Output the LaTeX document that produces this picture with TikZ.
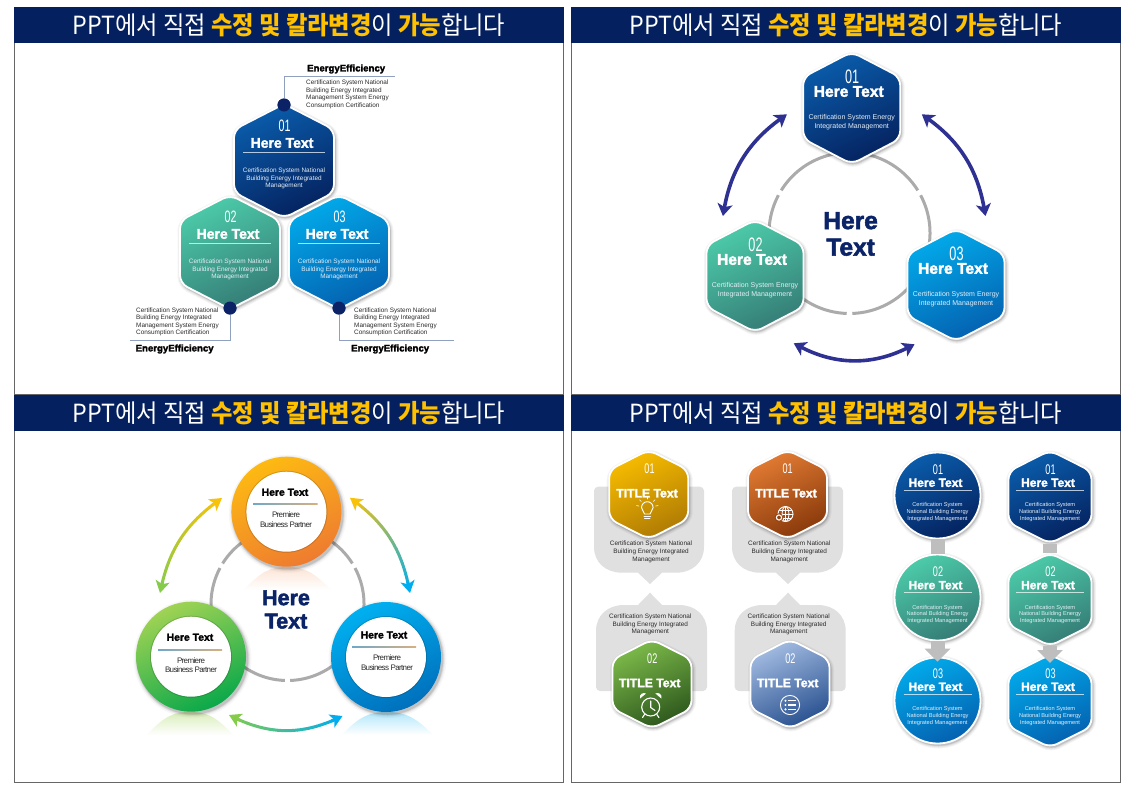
\documentclass[tikz,border=0pt]{standalone}
\usepackage{fontspec}
\usetikzlibrary{arrows.meta,decorations.markings,calc}
\setmainfont{Liberation Sans}
\newfontfamily\krfont[FakeStretch=0.93]{Noto Sans CJK KR}
\newfontfamily\heavy[FakeBold=2.2]{Liberation Sans Bold}
\newfontfamily\numA[FakeStretch=0.65]{Liberation Sans}
\newfontfamily\tight[LetterSpace=-8]{Liberation Sans}
\definecolor{headnavy}{HTML}{04205E}
\definecolor{titleyel}{HTML}{FFC000}
\definecolor{framegr}{HTML}{666666}
\definecolor{navyA}{HTML}{0A5CAB}
\definecolor{navyB}{HTML}{05225F}
\definecolor{tealA}{HTML}{4CCBA9}
\definecolor{tealB}{HTML}{357C76}
\definecolor{blueA}{HTML}{02AAEA}
\definecolor{blueB}{HTML}{0461B0}
\definecolor{arcgr}{HTML}{ABABAB}
\definecolor{arrowpur}{HTML}{2E3192}
\definecolor{dotnavy}{HTML}{0B2266}
\definecolor{leadgr}{HTML}{8FA0C0}
\definecolor{bodyw}{HTML}{E4EEF6}
\definecolor{bubgr}{HTML}{E0E0E0}
\definecolor{bargr}{HTML}{BEBEBE}
\definecolor{txtgr}{HTML}{2B2B2B}
\definecolor{bigblue}{HTML}{0B2468}
\definecolor{orA}{HTML}{FDBA12}
\definecolor{orB}{HTML}{EE7B30}
\definecolor{grA}{HTML}{A0D354}
\definecolor{grB}{HTML}{0AA84A}
\definecolor{skA}{HTML}{00B0F0}
\definecolor{skB}{HTML}{0070BC}
\definecolor{ruleL}{HTML}{6FA8C8}
\definecolor{ruleR}{HTML}{D8B080}
\definecolor{yelA}{HTML}{F7BC00}
\definecolor{yelB}{HTML}{AE7A04}
\definecolor{rusA}{HTML}{E27B33}
\definecolor{rusB}{HTML}{87380A}
\definecolor{lgrA}{HTML}{7DBB4A}
\definecolor{lgrB}{HTML}{2C561C}
\definecolor{lblA}{HTML}{A3BCE2}
\definecolor{lblB}{HTML}{28508F}
\definecolor{arrY}{HTML}{F9C20A}
\definecolor{arrG}{HTML}{84CC4A}
\definecolor{arrB}{HTML}{00AEEF}
\tikzset{
  headbar/.style={fill=headnavy,draw=none},
  framebox/.style={draw=framegr,line width=1pt},
  titletxt/.style={text=white,font=\krfont\fontsize{25}{28}\selectfont,inner sep=0pt},
  anchorbox/.style={draw=none,inner sep=0pt,outer sep=0pt,rectangle},
  numtxt/.style={text=white,inner sep=0pt},
  titlebold/.style={text=white,inner sep=0pt},
  bodytxt/.style={text=bodyw,inner sep=0pt,align=center},
  hrule/.style={white,line width=.5pt,opacity=.7},
  arcline/.style={arcgr,line width=3pt},
  dotnode/.style={circle,fill=dotnavy,draw=none,minimum size=13pt,inner sep=0pt},
  leader/.style={leadgr,line width=1pt},
  leadtxt/.style={text=txtgr,inner sep=0pt,align=left,font=\fontsize{6.4}{7.5}\selectfont},
  leadhead/.style={text=black,inner sep=0pt,font=\heavy\fontsize{9.6}{11}\selectfont},
  purarrow/.style={arrowpur,line width=3.6pt,{Stealth[length=12pt,width=15pt,inset=3pt]}-{Stealth[length=12pt,width=15pt,inset=3pt]}},
  bigtxt/.style={text=bigblue,inner sep=0pt,align=center},
  blacktitle/.style={text=black,inner sep=0pt,font=\heavy\fontsize{10.4}{12}\selectfont},
  smalltight/.style={text=txtgr,inner sep=0pt,align=center,font=\tight\fontsize{8}{9.6}\selectfont},
  bubtxt/.style={text=txtgr,inner sep=0pt,align=center,font=\fontsize{6.4}{7.7}\selectfont},
  iconline/.style={white,line width=.9pt,line cap=round},
  barline/.style={bargr,line width=14pt},
  bararrow/.style={bargr,line width=14pt,-{Triangle[length=13pt,width=25pt]}},
}
\newcommand{\hexpath}[4]{(#1,#2-#4) -- (#1+#3,#2-#4*.55) -- (#1+#3,#2+#4*.55) -- (#1,#2+#4) -- (#1-#3,#2+#4*.55) -- (#1-#3,#2-#4*.55) -- cycle}
\newcommand{\hexbox}[7]{%
  \foreach \w/\o in {7/.04,5/.05,3/.07,1.5/.10}{
    \draw[line width=\w pt,black,opacity=\o,rounded corners=8pt,line join=round]
      \hexpath{#2+1}{#3+1.5}{#4}{#5};}
  \path[draw=white,line width=1.8pt,rounded corners=8pt,top color=#6,bottom color=#7,shading angle=25]
      \hexpath{#2}{#3}{#4}{#5};
  \node[anchorbox,minimum width=2*#4 pt,minimum height=2*#5 pt] (#1) at (#2,#3) {};
}
\newcommand{\discbox}[6]{%
  \foreach \w/\o in {7/.04,5/.05,3/.07,1.5/.10}{
    \fill[black,opacity=\o] (#2+1,#3+1.5) circle[radius=#4+\w/2];}
  \node[circle,draw=white,line width=1.8pt,inner sep=0pt,minimum size=2*#4 pt,top color=#5,bottom color=#6,shading angle=25] (#1) at (#2,#3) {};
}
\newcommand{\textA}[4]{%
  \node[numtxt,font=\numA\fontsize{16.5}{16.5}\selectfont] (#1n) at (#2+.5,#3-35) {#4};
  \node[titlebold,font=\heavy\fontsize{14}{14}\selectfont] (#1t) at (#2-2,#3-18) {Here Text};
  \coordinate (#1l) at (#2-41,#3-8.5); \coordinate (#1r) at (#2+41,#3-8.5);
  \draw[hrule] (#1l) -- (#1r);
  \node[bodytxt,font=\fontsize{6.4}{7.5}\selectfont] (#1b) at (#2,#3+17.5) {Certification System National\\Building Energy Integrated\\Management};
}
\newcommand{\textB}[4]{%
  \node[numtxt,font=\numA\fontsize{19.5}{19.5}\selectfont] (#1n) at (#2+.5,#3-31.5) {#4};
  \node[titlebold,font=\heavy\fontsize{15.6}{16}\selectfont] (#1t) at (#2-3,#3-16.5) {Here Text};
  \node[bodytxt,font=\fontsize{7}{8.6}\selectfont] (#1b) at (#2,#3+14) {Certification System Energy\\Integrated Management};
}
\newcommand{\textC}[4]{%
  \node[numtxt,font=\numA\fontsize{14}{14}\selectfont] (#1n) at (#2+.5,#3) {#4};
  \node[titlebold,font=\heavy\fontsize{12}{12}\selectfont] (#1t) at (#2-2,#3+13.5) {Here Text};
  \coordinate (#1l) at (#2-34,#3+20.8); \coordinate (#1r) at (#2+34,#3+20.8);
  \draw[hrule] (#1l) -- (#1r);
  \node[bodytxt,font=\fontsize{5.66}{6.7}\selectfont] (#1b) at (#2,#3+42.7) {Certification System\\National Building Energy\\Integrated Management};
}
\newcommand{\ringbadge}[5]{%
  \foreach \w/\o in {8/.03,5/.05,3/.07,1.5/.10}{
    \fill[black,opacity=\o] (#2+1.5,#3+2) circle[radius=55+\w/2];}
  \node[circle,draw=none,inner sep=0pt,minimum size=110pt,top color=#4,bottom color=#5,shading angle=25] (#1) at (#2,#3) {};
  \fill[black,opacity=.16] (#2,#3) circle[radius=41];
  \node[circle,fill=white,draw=none,inner sep=0pt,minimum size=80pt] (#1w) at (#2,#3) {};
}
\newcommand{\ringtext}[7]{%
  \node[blacktitle] (#1t) at (#2,#3) {Here Text};
  \coordinate (#1l) at (#4,#6); \coordinate (#1r) at (#5,#6);
  \shade[left color=ruleL,right color=ruleR] (#4,#6-.35) rectangle (#5,#6+.35);
  \node[smalltight] (#1b) at (#7,#6+15.3) {Premiere\\Business Partner};
}
\newcommand{\gradarrow}[6]{%
  \path[postaction={decorate},decoration={markings,
     mark=between positions 0 and 1 step 0.03333 with
     {\coordinate (#1-\pgfkeysvalueof{/pgf/decoration/mark info/sequence number});}}]
     (#2) to[bend left=#4] (#3);
  \foreach \i in {3,...,28}{
    \pgfmathtruncatemacro{\j}{\i+1}
    \pgfmathtruncatemacro{\p}{100-100*(\i-1)/29}
    \draw[#5!\p!#6,line width=3pt,line cap=round] (#1-\i) -- (#1-\j);
  }
  \draw[#5,line width=3pt,-{Stealth[length=12pt,width=14pt,inset=3pt]}] (#1-4) -- (#2);
  \draw[#6,line width=3pt,-{Stealth[length=12pt,width=14pt,inset=3pt]}] (#1-28) -- (#3);
}
\newcommand{\bubble}[7]{%
  \fill[bubgr] (#1+4,#3) -- (#2-4,#3) .. controls (#2-2,#3) and (#2,#3+2*#7) .. (#2,#3+4*#7)
   -- (#2,#4-26*#7) .. controls (#2,#4-10*#7) and (#2-12,#4) .. (#2-28,#4)
   -- (#5+12,#4) -- (#5,#6) -- (#5-12,#4) -- (#1+28,#4)
   .. controls (#1+12,#4) and (#1,#4-10*#7) .. (#1,#4-26*#7)
   -- (#1,#3+4*#7) .. controls (#1,#3+2*#7) and (#1+2,#3) .. (#1+4,#3) -- cycle;
}
\newcommand{\titletext}[6]{% name numx numy titlex titley num
  \node[numtxt,font=\numA\fontsize{14}{14}\selectfont] (#1n) at (#2,#3) {#6};
  \node[titlebold,font=\heavy\fontsize{12.2}{13}\selectfont] (#1t) at (#4,#5) {TITLE Text};
}
\begin{document}
\begin{tikzpicture}[x=1pt,y=-1pt]
\useasboundingbox (0,0) rectangle (1134,793);
\fill[white] (0,0) rectangle (1134,793);
\draw[framebox] (14,7) rectangle (563,394);
\draw[framebox] (571,7) rectangle (1120,394);
\draw[framebox] (14,395) rectangle (563,782.5);
\draw[framebox] (571,395) rectangle (1120,782.5);
\fill[headbar] (13.5,7) rectangle (563.5,43);
\fill[headbar] (570.5,7) rectangle (1120.5,43);
\fill[headbar] (13.5,395) rectangle (563.5,431);
\fill[headbar] (570.5,395) rectangle (1120.5,431);
\node[titletxt] (title1) at (289,25) {PPT에서 직접 \textcolor{titleyel}{\bfseries 수정 및 칼라변경}이 \textcolor{titleyel}{\bfseries 가능}합니다};
\node[titletxt] (title2) at (846,25) {PPT에서 직접 \textcolor{titleyel}{\bfseries 수정 및 칼라변경}이 \textcolor{titleyel}{\bfseries 가능}합니다};
\node[titletxt] (title3) at (289,413) {PPT에서 직접 \textcolor{titleyel}{\bfseries 수정 및 칼라변경}이 \textcolor{titleyel}{\bfseries 가능}합니다};
\node[titletxt] (title4) at (846,413) {PPT에서 직접 \textcolor{titleyel}{\bfseries 수정 및 칼라변경}이 \textcolor{titleyel}{\bfseries 가능}합니다};

% ===== panel 1
\coordinate (lead1) at (395,76.5);
\coordinate (lead2) at (130,340);
\coordinate (lead3) at (454,340);
\node[dotnode] (dot1) at (284,105) {};
\node[dotnode] (dot2) at (230,308) {};
\node[dotnode] (dot3) at (339,308) {};
\draw[leader] (dot1) |- (lead1);
\draw[leader] (dot2) |- (lead2);
\draw[leader] (dot3) |- (lead3);
\hexbox{pa}{284}{161}{50}{57}{navyA}{navyB}
\hexbox{pb}{230}{252}{50}{57}{tealA}{tealB}
\hexbox{pc}{339}{252}{50}{57}{blueA}{blueB}
\node[dotnode] (dot1b) at (284,105) {};
\node[dotnode] (dot2b) at (230,308) {};
\node[dotnode] (dot3b) at (339,308) {};
\textA{pa}{284}{161}{01}
\textA{pb}{230}{252}{02}
\textA{pc}{339}{252}{03}
\node[leadhead,anchor=west] (lh1) at (307,69) {EnergyEfficiency};
\node[leadtxt,anchor=north west] (lt1) at (306,79.8) {Certification System National\\Building Energy Integrated\\Management System Energy\\Consumption Certification};
\node[leadhead,anchor=west] (lh2) at (135.5,349) {EnergyEfficiency};
\node[leadtxt,anchor=north west] (lt2) at (136,307.5) {Certification System National\\Building Energy Integrated\\Management System Energy\\Consumption Certification};
\node[leadhead,anchor=west] (lh3) at (351,349) {EnergyEfficiency};
\node[leadtxt,anchor=north west] (lt3) at (354,307.5) {Certification System National\\Building Energy Integrated\\Management System Energy\\Consumption Certification};

% ===== panel 2
\foreach \a/\b in {-28/88,92/208,212/328}{
  \draw[arcline] (849.5,233) ++(\a:80.5) arc[start angle=\a,end angle=\b,radius=80.5];}
\hexbox{qa}{851.7}{108}{48.5}{56}{navyA}{navyB}
\hexbox{qb}{755}{276}{48.5}{56}{tealA}{tealB}
\hexbox{qc}{956}{285}{48.5}{56}{blueA}{blueB}
\textB{qa}{851.7}{108}{01}
\textB{qb}{755}{276}{02}
\textB{qc}{956}{285}{03}
\node[bigtxt,font=\heavy\fontsize{24.5}{26.5}\selectfont] (qbig) at (850.6,234) {Here\\Text};
\coordinate (q1a) at (722.9,216); \coordinate (q1b) at (786.9,114.3);
\coordinate (q2a) at (921.8,114.3); \coordinate (q2b) at (985.5,216);
\coordinate (q3a) at (793.7,343.3); \coordinate (q3b) at (914.6,344.3);
\draw[purarrow] (q1a) to[bend left=22] (q1b);
\draw[purarrow] (q2a) to[bend left=22] (q2b);
\draw[purarrow] (q3a) to[bend right=27] (q3b);

% ===== panel 3
\shade[top color=orB!20,bottom color=white] (244,590) .. controls (262,570) and (272,567) .. (287,567) .. controls (302,567) and (312,570) .. (331,590) -- cycle;
\shade[top color=grA!40,bottom color=white] (147,735) .. controls (165,715) and (175,712) .. (190,712) .. controls (205,712) and (215,715) .. (233,735) -- cycle;
\shade[top color=skA!30,bottom color=white] (342,735) .. controls (360,715) and (372,712) .. (387,712) .. controls (402,712) and (414,715) .. (433,735) -- cycle;
\foreach \a/\b in {-28/88,92/208,212/328}{
  \draw[arcline] (287.5,604) ++(\a:76.5) arc[start angle=\a,end angle=\b,radius=76.5];}
\ringbadge{ra}{286.4}{511.7}{orA}{orB}
\ringbadge{rb}{191}{656.7}{grA}{grB}
\ringbadge{rc}{386}{657}{skA}{skB}
\ringtext{ra}{285}{492.3}{253}{317.5}{504.3}{286}
\ringtext{rb}{190}{637.3}{158}{222}{650}{191}
\ringtext{rc}{384}{635}{352}{416}{647.3}{387}
\node[bigtxt,font=\heavy\fontsize{21.5}{23.3}\selectfont] (rbig) at (286,609.5) {Here\\Text};
\coordinate (r1a) at (222,498); \coordinate (r1b) at (160,593);
\coordinate (r2a) at (350,497.7); \coordinate (r2b) at (410,593);
\coordinate (r3a) at (229,715); \coordinate (r3b) at (342.5,716);
\gradarrow{rga}{r1a}{r1b}{-22}{arrY}{arrG}
\gradarrow{rgb}{r2a}{r2b}{22}{arrY}{arrB}
\gradarrow{rgc}{r3a}{r3b}{-27}{arrG}{arrB}

% ===== panel 4 left
\bubble{594}{704}{486.7}{572.7}{650}{584}{1}
\bubble{732}{843}{486.7}{572.7}{788}{584}{1}
\bubble{596}{707}{691}{605}{650}{592.7}{-1}
\bubble{734.7}{845.7}{691}{605}{788}{592.7}{-1}
\hexbox{ta}{648.7}{494.5}{39.5}{44.5}{yelA}{yelB}
\hexbox{tb}{787.5}{494.5}{39.5}{44.5}{rusA}{rusB}
\hexbox{tc}{652}{684}{39.5}{44.5}{lgrA}{lgrB}
\hexbox{td}{790}{684}{39.5}{44.5}{lblA}{lblB}
\titletext{ta}{649.5}{468.3}{647}{493.3}{01}
\titletext{tb}{787.7}{468.3}{786}{493.3}{01}
\titletext{tc}{652.3}{658.3}{649.7}{683}{02}
\titletext{td}{790.3}{658.3}{787.7}{683}{02}
\node[bubtxt] (ba) at (651,552) {Certification System National\\Building Energy Integrated\\Management};
\node[bubtxt] (bb) at (789.3,552) {Certification System National\\Building Energy Integrated\\Management};
\node[bubtxt] (bc) at (650.3,624.5) {Certification System National\\Building Energy Integrated\\Management};
\node[bubtxt] (bd) at (788.7,624.5) {Certification System National\\Building Energy Integrated\\Management};
% bulb
\draw[iconline] (644.5,514) .. controls (644.5,511.5) and (641.5,510.5) .. (641.5,507.5) arc[start angle=180,end angle=360,radius=5.8] .. controls (653.1,510.5) and (650,511.5) .. (650,514) -- cycle;
\draw[iconline] (644,516.3) -- (650.5,516.3) (644.5,518.5) -- (650,518.5);
\foreach \a in {-170,-135,-90,-45,-10}{\draw[iconline,line width=.6pt] (647.3,507.5) ++(\a:8.5) -- ++(\a:2.5);}
% globe
\draw[iconline] (785.5,514) circle[radius=7.5];
\draw[iconline] (785.5,514) circle[x radius=3.4,y radius=7.5];
\draw[iconline] (778,514) -- (793,514) (779.5,510) -- (791.5,510) (779.5,518) -- (791.5,518) (785.5,506.5) -- (785.5,521.5);
\fill[rusB!85!rusA] (779,517.5) circle[radius=4.2];
\draw[iconline,line width=1.1pt] (779,517.5) circle[radius=2.6];
% alarm clock
\draw[iconline,line width=1.1pt] (650.7,707) circle[radius=9];
\draw[iconline,line width=1.1pt] (650.7,701) -- (650.7,707.5) -- (655,710.5);
\fill[white] (640,698.5) .. controls (639,694) and (643,692) .. (646,693.5) -- cycle;
\fill[white] (661.4,698.5) .. controls (662.4,694) and (658.4,692) .. (655.4,693.5) -- cycle;
\draw[iconline,line width=1.1pt] (644.5,714.5) -- (642.5,717.5) (656.9,714.5) -- (658.9,717.5);
% list icon
\draw[iconline] (790,705) circle[radius=9.6];
\foreach \y in {700.7,705,709.3}{
  \fill[white] (785.5,\y) circle[radius=1.2];
  \draw[iconline,line width=1.5pt,line cap=butt] (788.3,\y) -- (795.5,\y);}

% ===== panel 4 right
\discbox{ca}{937.5}{495.5}{43}{navyA}{navyB}
\discbox{cb}{937.5}{597.5}{43}{tealA}{tealB}
\discbox{cc}{937.5}{700.5}{43}{blueA}{blueB}
\draw[barline] (ca) -- (cb);
\coordinate (cct) at ($(cc.north)+(0,5)$);
\draw[bararrow] (cb.south) -- (cct);
\hexbox{ha}{1050}{497}{41.5}{46.5}{navyA}{navyB}
\hexbox{hb}{1050}{599.5}{41.5}{46.5}{tealA}{tealB}
\hexbox{hc}{1050}{701}{41.5}{46.5}{blueA}{blueB}
\draw[barline] (ha.south) -- (hb.north);
\coordinate (hct) at ($(hc.north)+(0,8.5)$);
\draw[bararrow] (hb.south) -- (hct);
\textC{ca}{937.5}{469.3}{01}
\textC{cb}{937.5}{571.7}{02}
\textC{cc}{937.5}{673.3}{03}
\textC{ha}{1050}{469.3}{01}
\textC{hb}{1050}{571.7}{02}
\textC{hc}{1050}{673.3}{03}
\end{tikzpicture}
\end{document}
